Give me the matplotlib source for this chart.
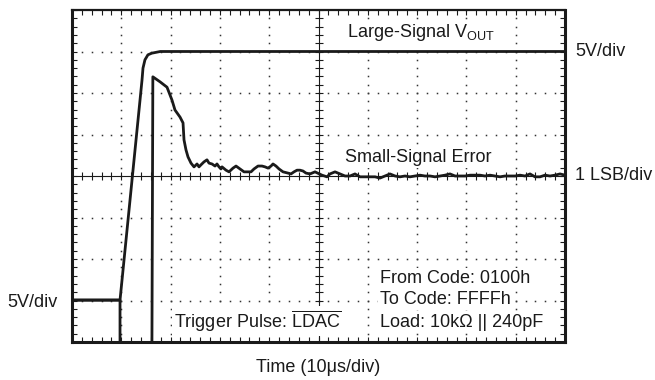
import numpy as np
import matplotlib
matplotlib.use("Agg")
import matplotlib.pyplot as plt

plt.rcParams['font.family'] = ['Liberation Sans', 'DejaVu Sans']
plt.rcParams['mathtext.fontset'] = 'custom'
plt.rcParams['mathtext.rm'] = 'Liberation Sans'
plt.rcParams['mathtext.it'] = 'Liberation Sans:italic'
plt.rcParams['mathtext.bf'] = 'Liberation Sans:bold'

# Time in microseconds (10 us/div), amplitude in screen divisions (0..8)
vout_t = [0.0, 9.74, 14.2, 14.4, 14.8, 15.4, 16.2, 17.9, 100.0]
vout_y = [1.01, 1.01, 6.31, 6.6, 6.8, 6.92, 6.96, 7.0, 7.0]

err_t = [0.0, 9.74, 9.74, 16.2, 16.4, 17.85, 19.27, 20.28, 20.89, 21.91, 22.52,
         22.72, 23.12, 23.53, 24.14, 24.75, 25.36, 25.76, 26.17, 26.77, 27.38,
         27.79, 28.40, 29.01, 29.41, 29.82, 30.22, 30.43, 31.24, 31.85, 32.66,
         33.27, 34.08, 34.89, 35.70, 36.31, 36.92, 37.73, 38.54, 39.15, 39.76,
         40.37, 40.77, 41.38, 41.99, 42.80, 43.81, 44.42, 45.03, 45.64, 46.25,
         46.86, 47.46, 48.28, 49.29, 50.71, 51.72, 52.33, 53.35, 54.36, 55.38,
         56.39, 57.40, 58.42, 59.43, 60.45, 61.46, 62.47, 63.49, 64.50, 65.52,
         66.53, 67.55, 68.56, 69.57, 70.59, 71.60, 72.62, 73.63, 74.65, 75.66,
         76.67, 77.69, 78.70, 79.72, 80.73, 81.74, 82.76, 83.77, 84.79, 85.80,
         86.82, 87.83, 88.85, 89.86, 90.87, 91.89, 92.90, 93.92, 94.93, 95.95,
         96.96, 97.97, 98.99, 100.0]
err_y = [1.01, 1.01, -0.5, -0.5, 6.39, 6.27, 6.14, 5.83, 5.59, 5.42, 5.28,
         4.87, 4.63, 4.46, 4.31, 4.22, 4.29, 4.22, 4.27, 4.34, 4.39,
         4.31, 4.29, 4.24, 4.29, 4.22, 4.17, 4.22, 4.14, 4.10, 4.19,
         4.24, 4.17, 4.10, 4.10, 4.10, 4.17, 4.24, 4.24, 4.22, 4.19,
         4.24, 4.29, 4.24, 4.17, 4.10, 4.07, 4.05, 4.10, 4.14, 4.14,
         4.12, 4.07, 4.05, 4.10, 4.02, 3.98, 4.05, 4.10, 4.05, 4.00,
         4.00, 4.05, 3.98, 3.98, 3.98, 3.98, 3.95, 4.00, 4.05, 4.00,
         3.98, 4.00, 3.98, 4.00, 4.02, 4.00, 4.00, 3.98, 4.00, 4.02,
         4.05, 4.00, 4.00, 4.00, 4.02, 4.02, 4.02, 4.00, 4.02, 4.00,
         3.98, 4.00, 4.00, 4.00, 4.02, 4.00, 4.05, 3.98, 3.98, 4.02,
         4.00, 4.02, 4.05, 4.02]

x_divs = 10
y_divs = 8
t_per_div = 10.0

fig = plt.figure(figsize=(6.55, 3.8), dpi=100)
ax = fig.add_axes([72/655, 38/380, 493/655, 332/380])
ax.set_xlim(0, x_divs * t_per_div)
ax.set_ylim(0, y_divs)

ink = '#1a1a1a'
dot = '#333333'

# dotted graticule
for k in range(1, x_divs):
    if k == x_divs // 2:
        continue
    ys = np.arange(0, y_divs + 0.01, 0.2)
    ax.plot(np.full_like(ys, k * t_per_div), ys, ls='none', marker='s',
            ms=1.1, mew=0, color=dot, zorder=1)
for k in range(1, y_divs):
    if k == y_divs // 2:
        continue
    xs = np.arange(0, x_divs * t_per_div + 0.01, 2.0)
    ax.plot(xs, np.full_like(xs, k), ls='none', marker='s',
            ms=1.1, mew=0, color=dot, zorder=1)

# center cross with tick marks
cx = x_divs * t_per_div / 2
cy = y_divs / 2
ax.axhline(cy, color=ink, lw=0.8, zorder=1)
ax.axvline(cx, color=ink, lw=0.8, zorder=1)
xs = np.arange(0, x_divs * t_per_div + 0.01, 2.0)
ax.plot(xs, np.full_like(xs, cy), ls='none', marker='|', ms=5.5, mew=0.8,
        color=ink, zorder=1)
ys = np.arange(0, y_divs + 0.01, 0.2)
ax.plot(np.full_like(ys, cx), ys, ls='none', marker='_', ms=5.5, mew=0.8,
        color=ink, zorder=1)

# traces
ax.plot(vout_t, vout_y, color=ink, lw=2.0, solid_joinstyle='round', zorder=4)
ax.plot(err_t, err_y, color=ink, lw=2.0, solid_joinstyle='round', zorder=4)

# frame ticks
ax.set_xticks(np.arange(0, 101, 2.0))
ax.set_yticks(np.arange(0, 8.01, 0.2))
ax.tick_params(direction='in', length=3.8, width=0.8, color=ink,
               top=True, right=True, labelbottom=False, labelleft=False)
for s in ax.spines.values():
    s.set_linewidth(2.2)
    s.set_color(ink)
    s.set_zorder(5)
ax.spines['top'].set_linewidth(1.6)

fs = 13
box = dict(facecolor='white', edgecolor='none', pad=1.5)
ax.text(55.8, 7.35, r'Large-Signal V$_{\mathrm{OUT}}$', fontsize=fs,
        ha='left', va='baseline', color=ink, bbox=box, zorder=3)
ax.text(55.4, 4.34, 'Small-Signal Error', fontsize=fs, ha='left',
        va='baseline', color=ink, bbox=box, zorder=3)
ax.text(102.0, 7.0, '5V/div', fontsize=fs, ha='left', va='center',
        color=ink, clip_on=False)
ax.text(102.0, 4.0, '1 LSB/div', fontsize=fs, ha='left', va='center',
        color=ink, clip_on=False)
ax.text(-2.84, 0.94, '5V/div', fontsize=fs, ha='right', va='center',
        color=ink, clip_on=False)
ax.text(20.7, 0.34, r'Trigger Pulse: $\overline{\mathrm{LDAC}}$', fontsize=fs,
        ha='left', va='baseline', color=ink, bbox=box, zorder=3)
ax.text(62.5, 1.42, 'From Code: 0100h', fontsize=fs, ha='left',
        va='baseline', color=ink, bbox=box, zorder=3)
ax.text(62.5, 0.92, 'To Code: FFFFh', fontsize=fs, ha='left',
        va='baseline', color=ink, bbox=box, zorder=3)
ax.text(62.5, 0.36, 'Load: 10kΩ || 240pF', fontsize=fs, ha='left',
        va='baseline', color=ink, bbox=box, zorder=3)

fig.text(318/655, 1 - 368/380, 'Time (10μs/div)', fontsize=fs,
         ha='center', va='center', color=ink)

fig.savefig('out.png', dpi=100)
